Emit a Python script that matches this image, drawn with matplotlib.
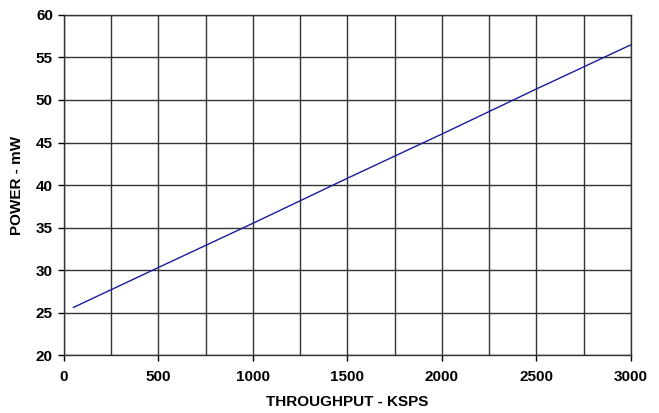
import matplotlib.pyplot as plt
from matplotlib.ticker import MultipleLocator

# Power vs throughput readings
throughput_ksps = [50, 500, 1000, 1500, 2000, 2500, 3000]
power_mw = [25.6, 30.3, 35.5, 40.8, 46.0, 51.3, 56.5]

plt.rcParams['font.family'] = ['Liberation Sans', 'DejaVu Sans']

fig = plt.figure(figsize=(6.59, 4.13), dpi=100)
ax = fig.add_axes([0.0971, 0.1404, 0.8604, 0.8233])

ax.plot(throughput_ksps, power_mw, color='#1a1a9e', linewidth=1.0)

ax.set_xlim(0, 3000)
ax.set_ylim(20, 60)
ax.xaxis.set_major_locator(MultipleLocator(500))
ax.xaxis.set_minor_locator(MultipleLocator(250))
ax.yaxis.set_major_locator(MultipleLocator(5))
ax.grid(True, which='both', color='#333333', linewidth=1.0)
ax.tick_params(which='minor', length=0)
ax.tick_params(which='major', direction='out', length=4, width=1, labelsize=11)
ax.tick_params(axis='x', pad=7)
ax.tick_params(axis='y', pad=4)
for lbl in ax.get_xticklabels() + ax.get_yticklabels():
    lbl.set_fontweight('bold')
for sp in ax.spines.values():
    sp.set_color('#333333')
    sp.set_linewidth(1.0)

ax.set_xlabel('THROUGHPUT - KSPS', fontsize=11, fontweight='bold')
ax.set_ylabel('POWER - mW', fontsize=11, fontweight='bold')
ax.xaxis.set_label_coords(0.5, -0.118)
ax.yaxis.set_label_coords(-0.0714, 0.5)

fig.savefig('out.png', dpi=100)
